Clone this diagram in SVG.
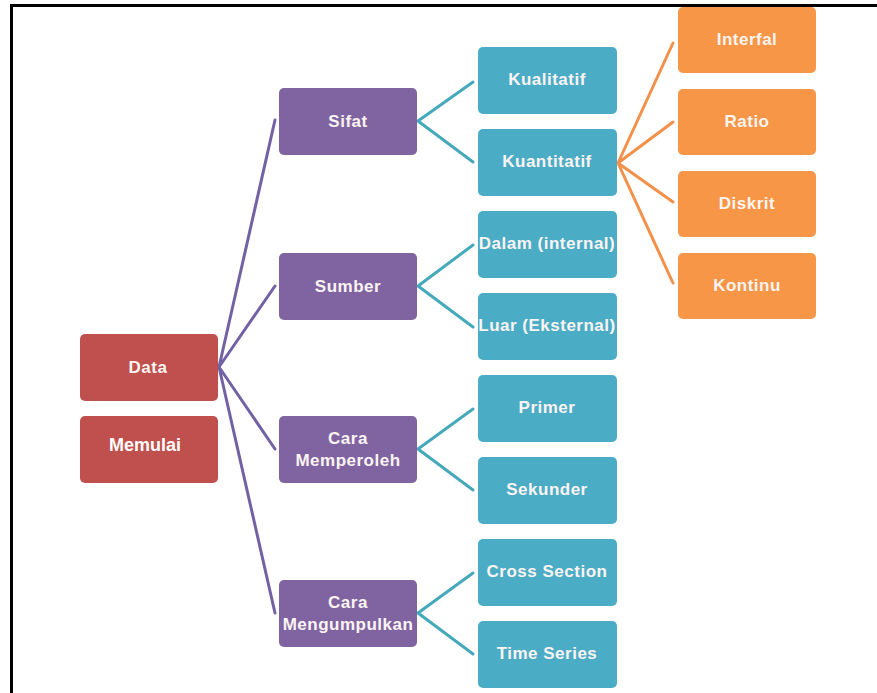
<svg xmlns="http://www.w3.org/2000/svg" width="877" height="693" viewBox="0 0 877 693">
<style>
.box{stroke:none}
.red{fill:#C0504D}
.pur{fill:#8064A2}
.blu{fill:#4BACC6}
.org{fill:#F79646}
.t{font-family:"Liberation Sans",Arial,sans-serif;font-weight:bold;font-size:17px;fill:#FBF4F2;text-anchor:middle;letter-spacing:0.5px}
.tm{font-family:"Liberation Sans",Arial,sans-serif;font-weight:bold;font-size:18px;fill:#FFFFFF;text-anchor:middle}
.cp{stroke:#7262A4;stroke-width:3;fill:none;stroke-linecap:round}
.cb{stroke:#45A9BB;stroke-width:3;fill:none;stroke-linecap:round}
.co{stroke:#F3914A;stroke-width:3;fill:none;stroke-linecap:round}
</style>
<rect x="0" y="0" width="877" height="693" fill="#FFFFFF"/>
<g id="frame">
<line x1="10" y1="5.5" x2="877" y2="5.5" stroke="#000" stroke-width="3"/>
<line x1="11.5" y1="4" x2="11.5" y2="693" stroke="#000" stroke-width="3"/>
</g>
<g id="connectors">
<path class="cp" d="M219 367 L275 120 M219 367 L275 286 M219 367 L275 449 M219 367 L275 613"/>
<path class="cb" d="M418 121 L473 82 M418 121 L473 162"/>
<path class="cb" d="M418 286 L473 245 M418 286 L473 327"/>
<path class="cb" d="M418 449 L473 409 M418 449 L473 490"/>
<path class="cb" d="M418 613 L473 573 M418 613 L473 654"/>
<path class="co" d="M618 163 L673 43 M618 163 L673 122 M618 163 L673 202 M618 163 L673 283"/>
</g>
<g id="n-data"><rect class="box red" x="80" y="334" width="138" height="67" rx="5"/><text class="t" x="148" y="373">Data</text></g>
<g id="n-memulai"><rect class="box red" x="80" y="416" width="138" height="67" rx="5"/><text class="tm" x="145" y="451">Memulai</text></g>
<g id="n-sifat"><rect class="box pur" x="279" y="88" width="138" height="67" rx="5"/><text class="t" x="348" y="127">Sifat</text></g>
<g id="n-sumber"><rect class="box pur" x="279" y="253" width="138" height="67" rx="5"/><text class="t" x="348" y="292">Sumber</text></g>
<g id="n-memperoleh"><rect class="box pur" x="279" y="416" width="138" height="67" rx="5"/><text class="t" x="348" y="444">Cara</text><text class="t" x="348" y="466">Memperoleh</text></g>
<g id="n-mengumpulkan"><rect class="box pur" x="279" y="580" width="138" height="67" rx="5"/><text class="t" x="348" y="608">Cara</text><text class="t" x="348" y="630">Mengumpulkan</text></g>
<g id="n-kualitatif"><rect class="box blu" x="478" y="47" width="139" height="67" rx="5"/><text class="t" x="547" y="85">Kualitatif</text></g>
<g id="n-kuantitatif"><rect class="box blu" x="478" y="129" width="139" height="67" rx="5"/><text class="t" x="547" y="167">Kuantitatif</text></g>
<g id="n-dalam"><rect class="box blu" x="478" y="211" width="139" height="67" rx="5"/><text class="t" x="547" y="249">Dalam (internal)</text></g>
<g id="n-luar"><rect class="box blu" x="478" y="293" width="139" height="67" rx="5"/><text class="t" x="547" y="331">Luar (Eksternal)</text></g>
<g id="n-primer"><rect class="box blu" x="478" y="375" width="139" height="67" rx="5"/><text class="t" x="547" y="413">Primer</text></g>
<g id="n-sekunder"><rect class="box blu" x="478" y="457" width="139" height="67" rx="5"/><text class="t" x="547" y="495">Sekunder</text></g>
<g id="n-cross"><rect class="box blu" x="478" y="539" width="139" height="67" rx="5"/><text class="t" x="547" y="577">Cross Section</text></g>
<g id="n-time"><rect class="box blu" x="478" y="621" width="139" height="67" rx="5"/><text class="t" x="547" y="659">Time Series</text></g>
<g id="n-interfal"><rect class="box org" x="678" y="7" width="138" height="66" rx="5"/><text class="t" x="747" y="45">Interfal</text></g>
<g id="n-ratio"><rect class="box org" x="678" y="89" width="138" height="66" rx="5"/><text class="t" x="747" y="127">Ratio</text></g>
<g id="n-diskrit"><rect class="box org" x="678" y="171" width="138" height="66" rx="5"/><text class="t" x="747" y="209">Diskrit</text></g>
<g id="n-kontinu"><rect class="box org" x="678" y="253" width="138" height="66" rx="5"/><text class="t" x="747" y="291">Kontinu</text></g>
</svg>
